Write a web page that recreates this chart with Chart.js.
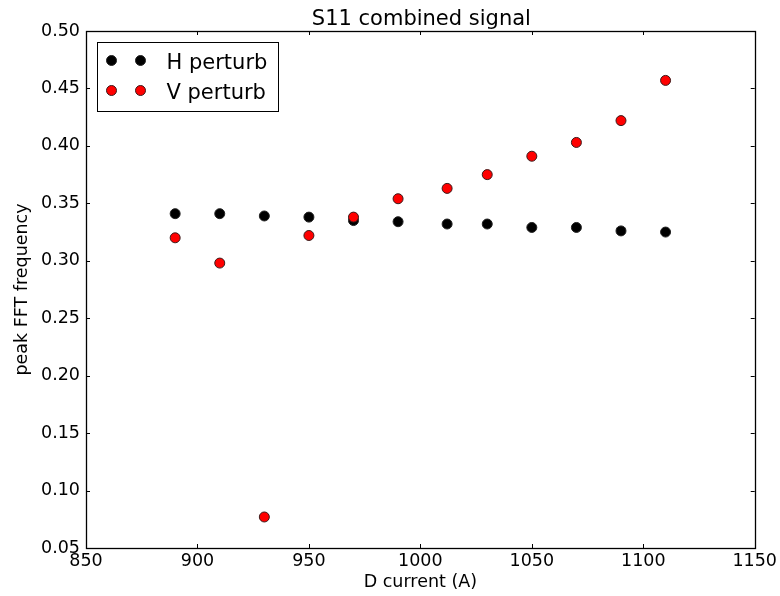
<!DOCTYPE html>
<html>
<head>
<meta charset="utf-8">
<script src="https://cdn.jsdelivr.net/npm/chart.js@4.4.1/dist/chart.umd.min.js"></script>
<style>
  html, body { margin: 0; padding: 0; background: #fff; }
  #wrap { width: 780px; height: 596px; }
</style>
</head>
<body>
<div id="wrap"><canvas id="myChart" width="780" height="596"></canvas></div>
<script>
// data
const currents = [890, 910, 930, 950, 970, 990, 1012, 1030, 1050, 1070, 1090, 1110];
const hPerturb = [0.341, 0.341, 0.339, 0.338, 0.335, 0.334, 0.332, 0.332, 0.329, 0.329, 0.326, 0.325];
const vPerturb = [0.320, 0.298, 0.077, 0.322, 0.338, 0.354, 0.363, 0.375, 0.391, 0.403, 0.422, 0.457];
const xTicks = [850, 900, 950, 1000, 1050, 1100, 1150];
const yTicks = [0.05, 0.10, 0.15, 0.20, 0.25, 0.30, 0.35, 0.40, 0.45, 0.50];
const titleText = 'S11 combined signal';

const FONT = 'DejaVu Sans';

function toPoints(ys) {
  return currents.map((x, i) => ({ x: x, y: ys[i] }));
}

// frame + inward ticks on all four sides, like matplotlib
const framePlugin = {
  id: 'frame',
  afterDatasetsDraw(chart) {
    const { ctx, chartArea: a, scales } = chart;
    ctx.save();
    ctx.strokeStyle = '#000';
    ctx.lineWidth = 1;
    ctx.beginPath();
    xTicks.forEach(v => {
      const px = Math.round(scales.x.getPixelForValue(v)) + 0.5;
      ctx.moveTo(px, a.bottom); ctx.lineTo(px, a.bottom - 4);
      ctx.moveTo(px, a.top); ctx.lineTo(px, a.top + 4);
    });
    yTicks.forEach(v => {
      const py = Math.round(scales.y.getPixelForValue(v)) + 0.5;
      ctx.moveTo(a.left, py); ctx.lineTo(a.left + 4, py);
      ctx.moveTo(a.right, py); ctx.lineTo(a.right - 4, py);
    });
    ctx.stroke();
    ctx.lineWidth = 1.3;
    ctx.strokeRect(Math.round(a.left) + 0.5, Math.round(a.top) + 0.5,
      Math.round(a.right - a.left), Math.round(a.bottom - a.top));
    // title centred over the plot area
    ctx.fillStyle = '#000';
    ctx.font = '21px ' + FONT;
    ctx.textAlign = 'center';
    ctx.textBaseline = 'alphabetic';
    ctx.fillText(titleText, (a.left + a.right) / 2 + 1, a.top - 6);
    ctx.restore();
  }
};

// legend with two markers per entry (numpoints=2)
const legendPlugin = {
  id: 'mplLegend',
  afterDraw(chart) {
    const { ctx, chartArea: a } = chart;
    const bx = Math.round(a.left) + 11.5, by = Math.round(a.top) + 11.5;
    ctx.save();
    ctx.fillStyle = '#fff';
    ctx.strokeStyle = '#000';
    ctx.lineWidth = 1;
    ctx.fillRect(bx, by, 181, 69);
    ctx.strokeRect(bx, by, 181, 69);
    chart.data.datasets.forEach((ds, i) => {
      const y = by + 18 + i * 30;
      [bx + 14, bx + 43].forEach(x => {
        ctx.beginPath();
        ctx.arc(x, y, 5, 0, Math.PI * 2);
        ctx.fillStyle = ds.backgroundColor;
        ctx.fill();
        ctx.strokeStyle = ds.borderColor;
        ctx.stroke();
      });
      ctx.fillStyle = '#000';
      ctx.font = '21px ' + FONT;
      ctx.textBaseline = 'alphabetic';
      ctx.textAlign = 'left';
      ctx.fillText(ds.label, bx + 69, y + 8);
    });
    ctx.restore();
  }
};

new Chart(document.getElementById('myChart'), {
  type: 'scatter',
  data: {
    datasets: [
      {
        label: 'H perturb',
        data: toPoints(hPerturb),
        backgroundColor: '#000000',
        borderColor: '#222222',
        borderWidth: 1,
        pointRadius: 5,
        order: 1,
      },
      {
        label: 'V perturb',
        data: toPoints(vPerturb),
        backgroundColor: '#ff0000',
        borderColor: '#3a1a1a',
        borderWidth: 1,
        pointRadius: 5,
        order: 0,
      },
    ]
  },
  options: {
    responsive: false,
    animation: false,
    layout: { padding: { left: 0, right: 25, top: 31, bottom: 0 } },
    plugins: {
      legend: { display: false },
      tooltip: { enabled: false },
      title: { display: false }
    },
    scales: {
      x: {
        type: 'linear',
        min: 850,
        max: 1150,
        afterBuildTicks: s => { s.ticks = xTicks.map(v => ({ value: v })); },
        afterFit: s => { s.height = 48; },
        grid: { display: false, drawTicks: false },
        border: { display: false },
        ticks: {
          color: '#000',
          padding: 3,
          maxRotation: 0,
          autoSkip: false,
          font: { family: FONT, size: 17.5 },
          callback: v => String(v)
        },
        title: {
          display: true,
          text: 'D current (A)',
          color: '#000',
          font: { family: FONT, size: 17.5 },
          padding: { top: 0, bottom: 3 }
        }
      },
      y: {
        type: 'linear',
        min: 0.05,
        max: 0.5,
        afterBuildTicks: s => { s.ticks = yTicks.map(v => ({ value: v })); },
        afterFit: s => { s.width = 86; },
        grid: { display: false, drawTicks: false },
        border: { display: false },
        ticks: {
          color: '#000',
          padding: 6,
          autoSkip: false,
          font: { family: FONT, size: 17.5 },
          callback: v => v.toFixed(2)
        },
        title: {
          display: true,
          text: 'peak FFT frequency',
          color: '#000',
          font: { family: FONT, size: 17.5 },
          padding: { top: 12, bottom: 0 }
        }
      }
    }
  },
  plugins: [framePlugin, legendPlugin]
});
</script>
</body>
</html>
